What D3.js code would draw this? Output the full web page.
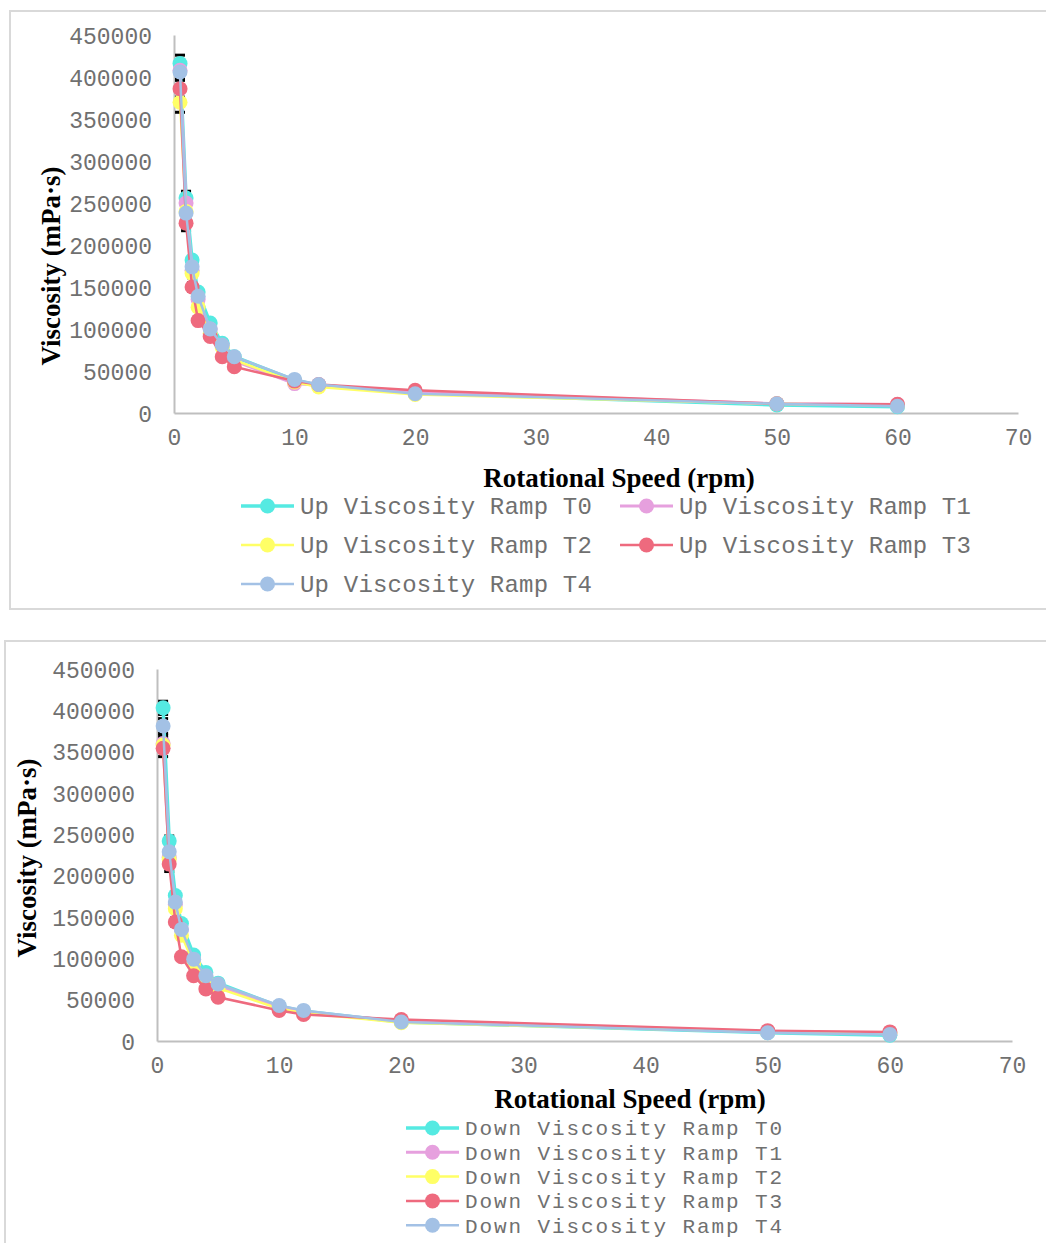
<!DOCTYPE html>
<html>
<head>
<meta charset="utf-8">
<script src="https://cdn.jsdelivr.net/npm/d3@7"></script>
<style>
  html, body { margin: 0; padding: 0; background: #fff; }
  svg { display: block; }
</style>
</head>
<body>
<svg id="chart" width="1046" height="1243"></svg>
<script>
// ---------- DATA ----------
const rpm = [0.5, 1, 1.5, 2, 3, 4, 5, 10, 12, 20, 50, 60];
const xTicks = [0, 10, 20, 30, 40, 50, 60, 70];
const yTicks = [0, 50000, 100000, 150000, 200000, 250000, 300000, 350000, 400000, 450000];

const upNames = ["Up Viscosity Ramp T0", "Up Viscosity Ramp T1", "Up Viscosity Ramp T2", "Up Viscosity Ramp T3", "Up Viscosity Ramp T4"];
const upT0 = [416000, 256000, 182000, 144000, 107000, 83000, 67000, 39000, 33000, 24000, 9500, 7500];
const upT1 = [408000, 250000, 170000, 135000, 100000, 80000, 62000, 35000, 33000, 25000, 11000, 10000];
const upT2 = [370000, 240000, 166000, 126000, 95000, 78000, 63000, 37000, 31000, 22000, 11000, 9000];
const upT3 = [386000, 226000, 150000, 110000, 91000, 67000, 55000, 38000, 34000, 27000, 11000, 10500];
const upT4 = [406000, 238000, 174000, 139000, 100000, 81000, 67000, 40000, 34000, 23000, 11000, 8000];
const upErr0 = [10000, 8000, 4000, 3000, 0, 0, 0, 0, 0, 0, 0, 0];
const upErr1 = [8000, 6000, 3000, 2000, 0, 0, 0, 0, 0, 0, 0, 0];
const upErr2 = [12000, 10000, 5000, 4000, 0, 0, 0, 0, 0, 0, 0, 0];
const upErr3 = [10000, 9000, 5000, 3000, 0, 0, 0, 0, 0, 0, 0, 0];
const upErr4 = [9000, 7000, 4000, 3000, 0, 0, 0, 0, 0, 0, 0, 0];

const downNames = ["Down Viscosity Ramp T0", "Down Viscosity Ramp T1", "Down Viscosity Ramp T2", "Down Viscosity Ramp T3", "Down Viscosity Ramp T4"];
const downT0 = [403000, 242000, 176000, 142000, 104000, 83000, 70000, 42000, 36000, 23000, 10000, 7000];
const downT1 = [360000, 222000, 165000, 135000, 95000, 78000, 66000, 40000, 35000, 24000, 11000, 9000];
const downT2 = [358000, 220000, 160000, 128000, 94000, 76000, 64000, 39000, 34000, 22000, 11000, 9000];
const downT3 = [354000, 214000, 144000, 102000, 79000, 63000, 53000, 37000, 32000, 26000, 12500, 11000];
const downT4 = [381000, 229000, 168000, 135000, 99000, 79000, 69000, 43000, 37000, 23000, 10000, 8000];
const downErr0 = [8000, 6000, 3000, 2000, 0, 0, 0, 0, 0, 0, 0, 0];
const downErr1 = [10000, 8000, 4000, 3000, 0, 0, 0, 0, 0, 0, 0, 0];
const downErr2 = [9000, 7000, 4000, 3000, 0, 0, 0, 0, 0, 0, 0, 0];
const downErr3 = [10000, 9000, 5000, 3000, 0, 0, 0, 0, 0, 0, 0, 0];
const downErr4 = [9000, 8000, 4000, 2000, 0, 0, 0, 0, 0, 0, 0, 0];

const colors = ["#55EAE2", "#E6A0DE", "#FFFF66", "#EE6A7E", "#A3C1E5"];
const lineWidths = [3.5, 3, 2.5, 2.5, 2.5];

// ---------- DRAW ----------
const svg = d3.select("#chart");
const monoFont = "'Liberation Mono', 'Courier New', monospace";
const serifFont = "'Liberation Serif', 'Times New Roman', serif";

function drawChart(cfg) {
  svg.append("rect")
    .attr("x", cfg.frame[0]).attr("y", cfg.frame[1])
    .attr("width", cfg.frame[2]).attr("height", cfg.frame[3])
    .attr("fill", "none").attr("stroke", "#d9d9d9").attr("stroke-width", 2);

  const x = d3.scaleLinear().domain([0, 70]).range([cfg.x0, cfg.x1]);
  const y = d3.scaleLinear().domain([0, 450000]).range([cfg.y0, cfg.y1]);
  const g = svg.append("g");

  const xAxis = d3.axisBottom(x).tickValues(xTicks).tickSize(0).tickPadding(16).tickFormat(d3.format("d"));
  const yAxis = d3.axisLeft(y).tickValues(yTicks).tickSize(0).tickPadding(22).tickFormat(d3.format("d"));
  const gx = g.append("g").attr("transform", `translate(0,${cfg.y0})`).call(xAxis);
  const gy = g.append("g").attr("transform", `translate(${cfg.x0},0)`).call(yAxis);
  [gx, gy].forEach(a => {
    a.select(".domain").attr("stroke", "#bfbfbf").attr("stroke-width", 2);
    a.selectAll("text").attr("font-family", monoFont).attr("font-size", 23).attr("fill", "#707070");
  });
  gy.selectAll("text").attr("dy", "0.35em");

  svg.append("text")
    .attr("x", cfg.xTitle[0]).attr("y", cfg.xTitle[1])
    .attr("text-anchor", "middle").attr("font-family", serifFont)
    .attr("font-weight", "bold").attr("font-size", 27).attr("fill", "#000")
    .text("Rotational Speed (rpm)");
  svg.append("text")
    .attr("transform", `translate(${cfg.yTitle[0]},${cfg.yTitle[1]}) rotate(-90)`)
    .attr("text-anchor", "middle").attr("font-family", serifFont)
    .attr("font-weight", "bold").attr("font-size", 27).attr("fill", "#000")
    .text("Viscosity (mPa·s)");

  const line = d3.line().x(d => x(d[0])).y(d => y(d[1]));

  // error bars
  cfg.series.forEach((s, i) => {
    const err = cfg.errors[i];
    rpm.forEach((r, k) => {
      if (!err[k]) return;
      const cx = x(r), v = s[k];
      const eg = g.append("g").attr("stroke", "#000").attr("stroke-width", 1.5);
      eg.append("line").attr("x1", cx).attr("x2", cx).attr("y1", y(v + err[k])).attr("y2", y(v - err[k]));
      eg.append("line").attr("x1", cx - 5).attr("x2", cx + 5).attr("y1", y(v + err[k])).attr("y2", y(v + err[k])).attr("stroke-width", 3);
      eg.append("line").attr("x1", cx - 5).attr("x2", cx + 5).attr("y1", y(v - err[k])).attr("y2", y(v - err[k])).attr("stroke-width", 3);
    });
  });

  // series
  cfg.series.forEach((s, i) => {
    const pts = rpm.map((r, k) => [r, s[k]]);
    g.append("path").datum(pts).attr("d", line)
      .attr("fill", "none").attr("stroke", colors[i]).attr("stroke-width", lineWidths[i])
      .attr("stroke-linejoin", "round");
    g.selectAll(null).data(pts).enter().append("circle")
      .attr("cx", d => x(d[0])).attr("cy", d => y(d[1])).attr("r", 7.5)
      .attr("fill", colors[i]);
  });

  // legend
  cfg.names.forEach((n, i) => {
    const [lx, ly] = cfg.legendPos(i);
    const lg = svg.append("g").attr("transform", `translate(${lx},${ly})`);
    lg.append("line").attr("x1", 0).attr("x2", 53).attr("y1", 0).attr("y2", 0)
      .attr("stroke", colors[i]).attr("stroke-width", lineWidths[i]);
    lg.append("circle").attr("cx", 26.5).attr("cy", 0).attr("r", 7.5).attr("fill", colors[i]);
    lg.append("text").attr("x", 59).attr("y", 0).attr("dy", "0.35em")
      .attr("font-family", monoFont).attr("font-size", cfg.legendFont)
      .attr("letter-spacing", cfg.legendSpacing).attr("fill", "#707070")
      .text(n);
  });
}

drawChart({
  frame: [10, 11, 1050, 598],
  x0: 174, x1: 1018, y0: 413, y1: 35,
  xTitle: [619, 487], yTitle: [60, 266],
  series: [upT0, upT1, upT2, upT3, upT4],
  errors: [upErr0, upErr1, upErr2, upErr3, upErr4],
  names: upNames,
  legendFont: 24, legendSpacing: 0.2,
  legendPos: i => [i % 2 === 0 ? 241 : 620, 506 + Math.floor(i / 2) * 39]
});

drawChart({
  frame: [5, 641, 1060, 620],
  x0: 157, x1: 1012, y0: 1041, y1: 669,
  xTitle: [630, 1108], yTitle: [36, 858],
  series: [downT0, downT1, downT2, downT3, downT4],
  errors: [downErr0, downErr1, downErr2, downErr3, downErr4],
  names: downNames,
  legendFont: 21, legendSpacing: 1.9,
  legendPos: i => [406, 1128 + i * 24.3]
});
</script>
</body>
</html>
